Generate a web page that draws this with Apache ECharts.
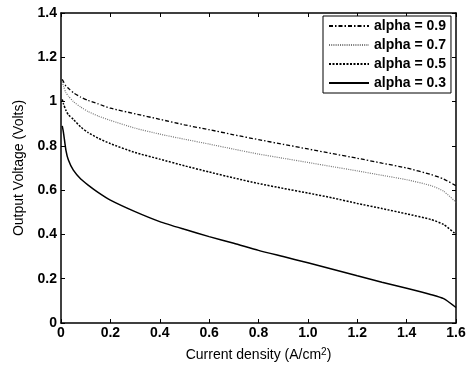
<!DOCTYPE html>
<html>
<head>
<meta charset="utf-8">
<script src="https://cdn.jsdelivr.net/npm/echarts@6/dist/echarts.min.js"></script>
<style>
  html, body { margin: 0; padding: 0; background: #fff; }
  #chart { width: 473px; height: 369px; }
</style>
</head>
<body>
<div id="chart"></div>
<script>
// Current density sample points (A/cm^2)
const currentDensity = [0.005, 0.01, 0.02, 0.03, 0.05, 0.08, 0.11, 0.15, 0.2, 0.3, 0.4, 0.5, 0.6,
  0.7, 0.8, 0.9, 1.0, 1.1, 1.2, 1.3, 1.4, 1.5, 1.55, 1.6];

// Output voltage (V) for each alpha
const voltAlpha09 = [1.10, 1.09, 1.07, 1.06, 1.04, 1.02, 1.005, 0.99, 0.97, 0.945, 0.92, 0.895, 0.873,
  0.85, 0.828, 0.807, 0.786, 0.765, 0.744, 0.722, 0.70, 0.67, 0.65, 0.62];
const voltAlpha07 = [1.09, 1.07, 1.04, 1.025, 1.0, 0.975, 0.955, 0.935, 0.915, 0.88, 0.853, 0.83, 0.808,
  0.785, 0.763, 0.744, 0.725, 0.706, 0.687, 0.667, 0.647, 0.62, 0.595, 0.545];
const voltAlpha05 = [1.01, 0.99, 0.96, 0.94, 0.92, 0.885, 0.86, 0.835, 0.81, 0.77, 0.74, 0.71, 0.682,
  0.655, 0.63, 0.608, 0.587, 0.565, 0.54, 0.517, 0.493, 0.467, 0.445, 0.40];
const voltAlpha03 = [0.89, 0.86, 0.78, 0.736, 0.69, 0.65, 0.623, 0.59, 0.555, 0.503, 0.458, 0.423, 0.39,
  0.36, 0.328, 0.30, 0.272, 0.243, 0.213, 0.184, 0.157, 0.128, 0.11, 0.07];

const seriesNames = ['alpha = 0.9', 'alpha = 0.7', 'alpha = 0.5', 'alpha = 0.3'];

// Tick labels as printed on each axis
const xTickLabels = ['0', '0.2', '0.4', '0.6', '0.8', '1.0', '1.2', '1.4', '1.6'];
const yTickLabels = ['0', '0.2', '0.4', '0.6', '0.8', '1', '1.2', '1.4'];

const pairs = (ys) => currentDensity.map((x, i) => [x, ys[i]]);

const FONT = 'Liberation Sans, Arial, sans-serif';
const tickFont = { fontFamily: FONT, fontWeight: 'bold', fontSize: 14, color: '#000' };

const boxAxis = (extra) => Object.assign({
  type: 'value',
  axisLine: { show: true, onZero: false, lineStyle: { color: '#000', width: 1.5 } },
  axisTick: { show: true, inside: true, length: 4, lineStyle: { color: '#000', width: 1 } },
  splitLine: { show: false }
}, extra);

const lineSeries = (name, ys, lineStyle) => ({
  name, type: 'line', data: pairs(ys),
  showSymbol: false, symbol: 'none',
  smooth: 0.2,
  itemStyle: { color: lineStyle.color },
  lineStyle
});

const chart = echarts.init(document.getElementById('chart'), null, { renderer: 'canvas' });

chart.setOption({
  animation: false,
  backgroundColor: '#fff',
  grid: { left: 61, right: 17, top: 13, bottom: 46, containLabel: false },
  xAxis: [
    boxAxis({
      position: 'bottom', min: 0, max: 1.6, interval: 0.2,
      axisLabel: Object.assign({ margin: 3, formatter: (v) => xTickLabels[Math.round(v / 0.2)] }, tickFont),
      name: 'Current density (A/cm{sup|2})', nameLocation: 'middle', nameGap: 24,
      nameTextStyle: {
        fontFamily: FONT, fontSize: 14, color: '#000',
        rich: { sup: { fontFamily: FONT, fontSize: 10, color: '#000', verticalAlign: 'top', padding: [0, 0, 7, 0] } }
      }
    }),
    boxAxis({ position: 'top', min: 0, max: 1.6, interval: 0.2, axisLabel: { show: false } })
  ],
  yAxis: [
    boxAxis({
      position: 'left', min: 0, max: 1.4, interval: 0.2,
      axisLabel: Object.assign({ margin: 4, formatter: (v) => yTickLabels[Math.round(v / 0.2)] }, tickFont),
      name: 'Output Voltage (Volts)', nameLocation: 'middle', nameGap: 33,
      nameTextStyle: { fontFamily: FONT, fontSize: 14, color: '#000' }
    }),
    boxAxis({ position: 'right', min: 0, max: 1.4, interval: 0.2, axisLabel: { show: false } })
  ],
  legend: {
    orient: 'vertical',
    left: 323, top: 16,
    padding: [3, 5, 3, 5],
    itemWidth: 40, itemHeight: 14, itemGap: 5,
    backgroundColor: '#fff',
    borderColor: '#000', borderWidth: 1,
    itemStyle: { opacity: 0 },
    data: seriesNames,
    textStyle: { fontFamily: FONT, fontWeight: 'bold', fontSize: 14, color: '#000' }
  },
  series: [
    lineSeries(seriesNames[0], voltAlpha09, { color: '#000', width: 1.3, type: [4, 2, 1.5, 2] }),
    lineSeries(seriesNames[1], voltAlpha07, { color: '#777', width: 1.2, type: [1, 1.2] }),
    lineSeries(seriesNames[2], voltAlpha05, { color: '#000', width: 1.5, type: [2, 1.5] }),
    lineSeries(seriesNames[3], voltAlpha03, { color: '#000', width: 1.5, type: 'solid' })
  ]
});
</script>
</body>
</html>
